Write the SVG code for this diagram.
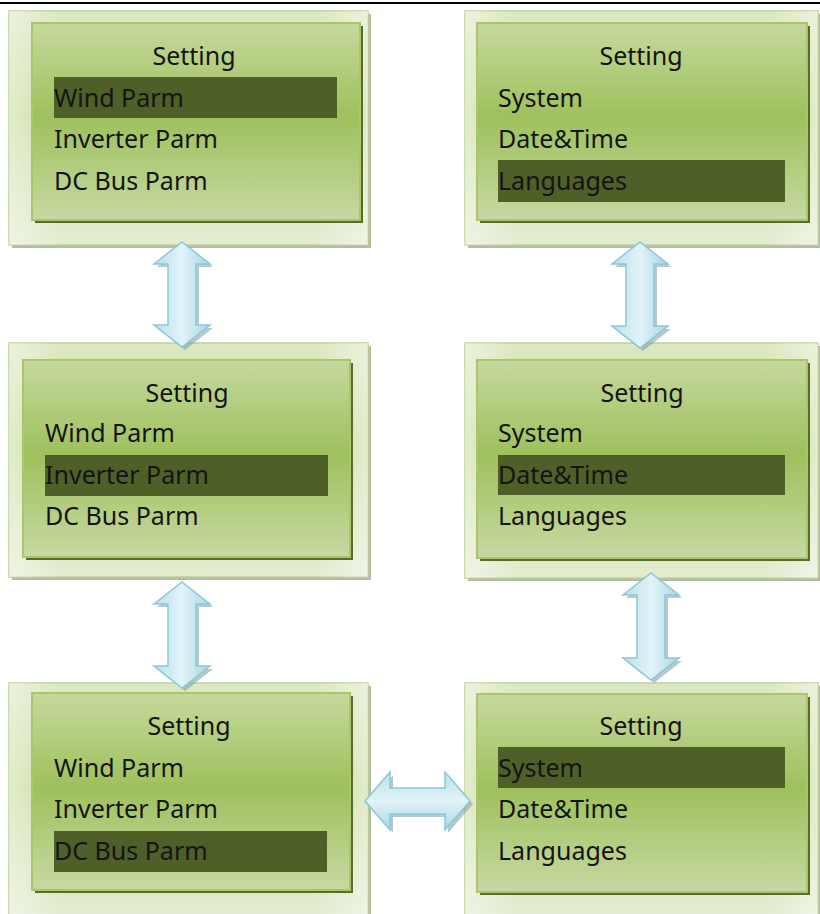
<svg xmlns="http://www.w3.org/2000/svg" width="820" height="914" viewBox="0 0 820 914">
<defs>
<linearGradient id="og" x1="0" y1="0" x2="0" y2="1">
<stop offset="0" stop-color="#dde8c2"/>
<stop offset="0.45" stop-color="#c9dc9f"/>
<stop offset="1" stop-color="#e4ecd2"/>
</linearGradient>
<linearGradient id="oh" x1="0" y1="0" x2="1" y2="0">
<stop offset="0" stop-color="#ffffff" stop-opacity="0.45"/>
<stop offset="0.15" stop-color="#ffffff" stop-opacity="0"/>
<stop offset="0.85" stop-color="#ffffff" stop-opacity="0"/>
<stop offset="1" stop-color="#ffffff" stop-opacity="0.45"/>
</linearGradient>
<linearGradient id="ig" x1="0" y1="0" x2="0" y2="1">
<stop offset="0" stop-color="#c6d99d"/>
<stop offset="0.48" stop-color="#9fc05c"/>
<stop offset="1" stop-color="#c7d9a2"/>
</linearGradient>
<linearGradient id="avg" x1="0" y1="0" x2="1" y2="0">
<stop offset="0" stop-color="#b9e0ea"/>
<stop offset="0.5" stop-color="#e2f3f8"/>
<stop offset="1" stop-color="#a9d6e3"/>
</linearGradient>
<linearGradient id="ahg" x1="0" y1="0" x2="0" y2="1">
<stop offset="0" stop-color="#b9e0ea"/>
<stop offset="0.5" stop-color="#e2f3f8"/>
<stop offset="1" stop-color="#a9d6e3"/>
</linearGradient>
</defs>
<style>
.oshadow{fill:#b4bba8}
.outer{fill:url(#og);stroke:#bcd394;stroke-width:1.5}
.outer2{fill:url(#oh)}
.ishadow{fill:#566e2c}
.inner{fill:url(#ig);stroke:#a9c66c;stroke-width:2}
.hl{fill:#4e5f27}
text{font-family:"Noto Sans","Open Sans","Liberation Sans",sans-serif;font-size:25px;fill:#141414}
.t{text-anchor:middle}
.ash{fill:#7d9aa3;opacity:0.55}
.av{fill:url(#avg);stroke:#8cc7d8;stroke-width:1.5}
.ah{fill:url(#ahg);stroke:#8cc7d8;stroke-width:1.5}
</style>
<rect width="820" height="914" fill="#ffffff"/>
<line x1="0" y1="3" x2="820" y2="3" stroke="#000" stroke-width="2"/>

<g id="panel-wind">
<rect class="oshadow" x="12" y="14" width="359" height="234"/>
<rect class="outer" x="9" y="11" width="359" height="234"/>
<rect class="outer2" x="9" y="11" width="359" height="234"/>
<rect class="ishadow" x="35" y="26" width="328" height="197"/>
<rect class="inner" x="32" y="23" width="328" height="197"/>
<rect class="hl" x="54" y="77" width="283" height="41"/>
<text class="t" x="194" y="65">Setting</text>
<text x="54" y="107">Wind Parm</text>
<text x="54" y="148">Inverter Parm</text>
<text x="54" y="190">DC Bus Parm</text>
</g>

<g id="panel-inverter">
<rect class="oshadow" x="12" y="346" width="359" height="234"/>
<rect class="outer" x="9" y="343" width="359" height="234"/>
<rect class="outer2" x="9" y="343" width="359" height="234"/>
<rect class="ishadow" x="26" y="363" width="327" height="197"/>
<rect class="inner" x="23" y="360" width="327" height="197"/>
<rect class="hl" x="45" y="455" width="283" height="41"/>
<text class="t" x="187" y="402">Setting</text>
<text x="45" y="442">Wind Parm</text>
<text x="45" y="484">Inverter Parm</text>
<text x="45" y="525">DC Bus Parm</text>
</g>

<g id="panel-dcbus">
<rect class="oshadow" x="12" y="686" width="359" height="234"/>
<rect class="outer" x="9" y="683" width="359" height="234"/>
<rect class="outer2" x="9" y="683" width="359" height="234"/>
<rect class="ishadow" x="35" y="696" width="318" height="197"/>
<rect class="inner" x="32" y="693" width="318" height="197"/>
<rect class="hl" x="54" y="831" width="273" height="41"/>
<text class="t" x="189" y="735">Setting</text>
<text x="54" y="777">Wind Parm</text>
<text x="54" y="818">Inverter Parm</text>
<text x="54" y="860">DC Bus Parm</text>
</g>

<g id="panel-languages">
<rect class="oshadow" x="468" y="14" width="353" height="234"/>
<rect class="outer" x="465" y="11" width="353" height="234"/>
<rect class="outer2" x="465" y="11" width="353" height="234"/>
<rect class="ishadow" x="480" y="26" width="330" height="197"/>
<rect class="inner" x="477" y="23" width="330" height="197"/>
<rect class="hl" x="498" y="160" width="287" height="42"/>
<text class="t" x="641" y="65">Setting</text>
<text x="498" y="107">System</text>
<text x="498" y="148">Date&amp;Time</text>
<text x="498" y="190">Languages</text>
</g>

<g id="panel-datetime">
<rect class="oshadow" x="468" y="346" width="353" height="235"/>
<rect class="outer" x="465" y="343" width="353" height="235"/>
<rect class="outer2" x="465" y="343" width="353" height="235"/>
<rect class="ishadow" x="480" y="363" width="330" height="198"/>
<rect class="inner" x="477" y="360" width="330" height="198"/>
<rect class="hl" x="498" y="455" width="287" height="40"/>
<text class="t" x="642" y="402">Setting</text>
<text x="498" y="442">System</text>
<text x="498" y="484">Date&amp;Time</text>
<text x="498" y="525">Languages</text>
</g>

<g id="panel-system">
<rect class="oshadow" x="468" y="686" width="353" height="234"/>
<rect class="outer" x="465" y="683" width="353" height="234"/>
<rect class="outer2" x="465" y="683" width="353" height="234"/>
<rect class="ishadow" x="480" y="697" width="330" height="198"/>
<rect class="inner" x="477" y="694" width="330" height="198"/>
<rect class="hl" x="498" y="747" width="287" height="41"/>
<text class="t" x="641" y="735">Setting</text>
<text x="498" y="777">System</text>
<text x="498" y="818">Date&amp;Time</text>
<text x="498" y="860">Languages</text>
</g>

<g id="connectors">
<g transform="translate(182,242)">
<path class="ash" transform="translate(3,3)" d="M0,0 L28,22 L14,22 L14,83 L28,83 L0,105 L-28,83 L-14,83 L-14,22 L-28,22 Z"/>
<path class="av" d="M0,0 L28,22 L14,22 L14,83 L28,83 L0,105 L-28,83 L-14,83 L-14,22 L-28,22 Z"/>
</g>
<g transform="translate(182,582)">
<path class="ash" transform="translate(3,3)" d="M0,0 L28,22 L14,22 L14,84 L28,84 L0,106 L-28,84 L-14,84 L-14,22 L-28,22 Z"/>
<path class="av" d="M0,0 L28,22 L14,22 L14,84 L28,84 L0,106 L-28,84 L-14,84 L-14,22 L-28,22 Z"/>
</g>
<g transform="translate(640,242)">
<path class="ash" transform="translate(3,3)" d="M0,0 L28,22 L14,22 L14,84 L28,84 L0,106 L-28,84 L-14,84 L-14,22 L-28,22 Z"/>
<path class="av" d="M0,0 L28,22 L14,22 L14,84 L28,84 L0,106 L-28,84 L-14,84 L-14,22 L-28,22 Z"/>
</g>
<g transform="translate(651,573)">
<path class="ash" transform="translate(3,3)" d="M0,0 L28,22 L14,22 L14,85 L28,85 L0,107 L-28,85 L-14,85 L-14,22 L-28,22 Z"/>
<path class="av" d="M0,0 L28,22 L14,22 L14,85 L28,85 L0,107 L-28,85 L-14,85 L-14,22 L-28,22 Z"/>
</g>
<g transform="translate(365,801)">
<path class="ash" transform="translate(3,3)" d="M0,0 L25,-29 L25,-13 L80,-13 L80,-29 L105,0 L80,29 L80,13 L25,13 L25,29 Z"/>
<path class="ah" d="M0,0 L25,-29 L25,-13 L80,-13 L80,-29 L105,0 L80,29 L80,13 L25,13 L25,29 Z"/>
</g>
</g>
</svg>
